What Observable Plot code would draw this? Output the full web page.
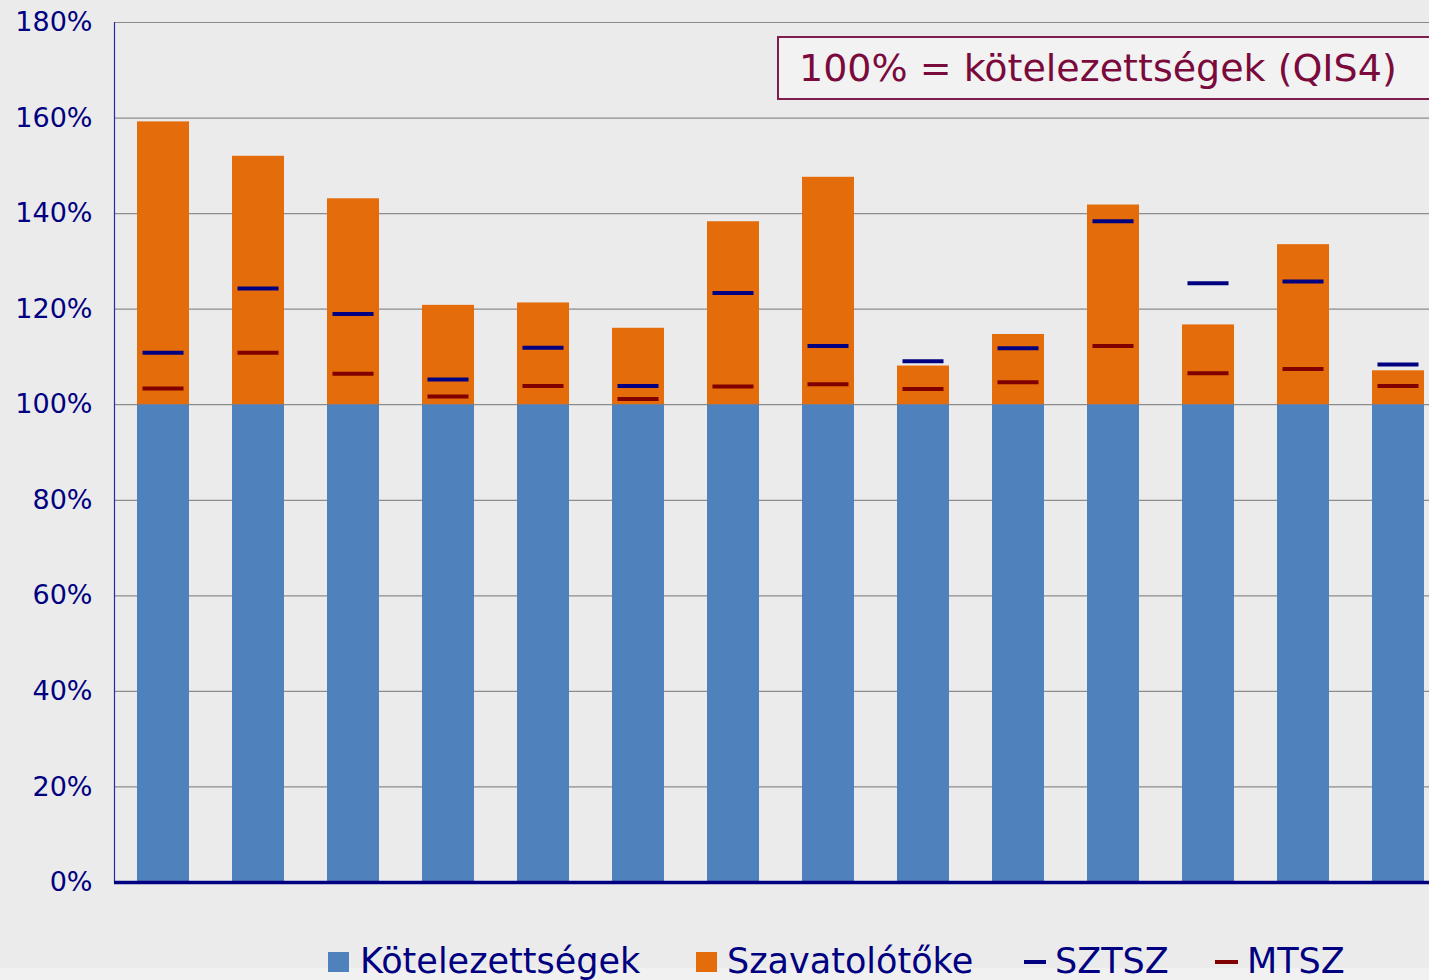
<!DOCTYPE html>
<html>
<head>
<meta charset="utf-8">
<script src="https://cdn.jsdelivr.net/npm/d3@7"></script>
<script src="https://cdn.jsdelivr.net/npm/@observablehq/plot@0.6"></script>
<style>
  html, body { margin: 0; padding: 0; background: #ebebeb; overflow: hidden; }
  #wrap { position: relative; width: 1429px; height: 980px; overflow: hidden; background: #ebebeb; font-family: "DejaVu Sans", Verdana, sans-serif; }
  #strip { position: absolute; left: 0; top: 968px; width: 1429px; height: 12px; background: #f1f1f1; }
  #chart { position: absolute; left: 0; top: 0; width: 1447px; }
  #chart svg { max-width: none !important; }
  #title { position: absolute; left: 777px; top: 36px; width: 646px; height: 60px; border: 2px solid #7f1f4f; background: #f2f2f2; color: #7a0a3c; font-size: 38px; line-height: 60px; padding-left: 20px; box-sizing: content-box; white-space: nowrap; }
  .lg { position: absolute; top: 942px; height: 38px; line-height: 38px; font-size: 35px; color: #000080; white-space: nowrap; }
  .sw { position: absolute; }
</style>
</head>
<body>
<div id="wrap">
  <div id="strip"></div>
  <div id="chart"></div>
  <div id="title">100% = kötelezettségek (QIS4)</div>
  <div id="legend"></div>
</div>
<script>
// Data
const categories = ["1","2","3","4","5","6","7","8","9","10","11","12","13","14"];
const kotelezettsegek = [100,100,100,100,100,100,100,100,100,100,100,100,100,100];
const total = [159.2, 152.0, 143.1, 120.8, 121.3, 116.0, 138.3, 147.6, 108.1, 114.7, 141.8, 116.7, 133.5, 107.1];
const sztsz = [110.9, 124.3, 119.0, 105.3, 111.9, 103.9, 123.4, 112.3, 109.1, 111.8, 138.4, 125.4, 125.8, 108.4];
const mtsz  = [103.4, 110.9, 106.5, 101.7, 103.9, 101.2, 103.8, 104.3, 103.3, 104.7, 112.3, 106.6, 107.5, 103.9];
const yTicks = [0, 20, 40, 60, 80, 100, 120, 140, 160, 180];
const seriesNames = ["Kötelezettségek", "Szavatolótőke", "SZTSZ", "MTSZ"];
const seriesColors = ["#4f81bd", "#e46c0a", "#000080", "#800000"];

const rows = categories.map((c, i) => ({
  cat: c,
  base: kotelezettsegek[i],
  total: total[i],
  sztsz: sztsz[i],
  mtsz: mtsz[i]
}));

const chart = Plot.plot({
  width: 1447,
  height: 900,
  marginLeft: 114,
  marginRight: 0,
  marginTop: 22,
  marginBottom: 18,
  style: { background: "transparent", fontFamily: "DejaVu Sans, Verdana, sans-serif", overflow: "visible", maxWidth: "none" },
  x: { type: "band", domain: categories, paddingInner: 0.45, paddingOuter: 0.225, axis: null },
  y: { domain: [0, 180], axis: null },
  marks: [
    Plot.ruleY(yTicks.filter(d => d > 0), { stroke: "#8c8c8c", strokeWidth: 1.2 }),
    Plot.barY(rows, { x: "cat", y1: 0, y2: "base", fill: seriesColors[0] }),
    Plot.barY(rows, { x: "cat", y1: "base", y2: "total", fill: seriesColors[1] }),
    Plot.tickY(rows, { x: "cat", y: "sztsz", stroke: seriesColors[2], strokeWidth: 4, inset: 5.5 }),
    Plot.tickY(rows, { x: "cat", y: "mtsz", stroke: seriesColors[3], strokeWidth: 4, inset: 5.5 }),
    Plot.axisY(yTicks, { tickSize: 0, tickPadding: 22, tickFormat: d => d + "%", fontSize: 27, fill: "#000080", anchor: "left" }),
    Plot.frame({ anchor: "left", stroke: "#2a2a9a", strokeWidth: 1.2 }),
    Plot.ruleY([0], { stroke: "#000080", strokeWidth: 3.5 })
  ]
});
chart.style.maxWidth = "none";
document.getElementById("chart").appendChild(chart);

// Legend
const legend = document.getElementById("legend");
const legendLayout = [
  { sw: [328, 952, 21, 20], tx: 360 },
  { sw: [696, 952, 21, 20], tx: 727 },
  { sw: [1024, 960, 22, 4], tx: 1055 },
  { sw: [1215, 960, 23, 4], tx: 1247 }
];
seriesNames.forEach((name, i) => {
  const L = legendLayout[i];
  const s = document.createElement("div");
  s.className = "sw";
  s.style.left = L.sw[0] + "px"; s.style.top = L.sw[1] + "px";
  s.style.width = L.sw[2] + "px"; s.style.height = L.sw[3] + "px";
  s.style.background = seriesColors[i];
  legend.appendChild(s);
  const t = document.createElement("div");
  t.className = "lg";
  t.style.left = L.tx + "px";
  t.textContent = name;
  legend.appendChild(t);
});
</script>
</body>
</html>
